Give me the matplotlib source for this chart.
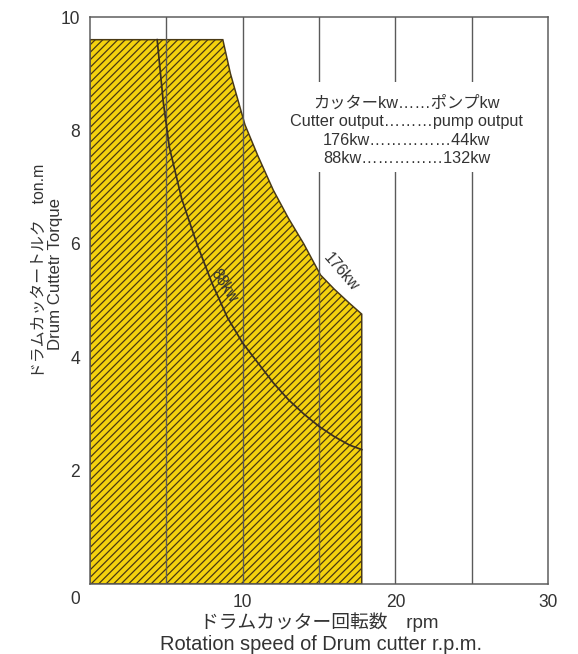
import matplotlib
matplotlib.use("Agg")
import matplotlib.pyplot as plt
from matplotlib.patches import Polygon, Rectangle

# ---- data ----
x_ticks = [10, 20, 30]
y_ticks = [2, 4, 6, 8, 10]
grid_x = [5, 10, 15, 20, 25]

max_torque = 9.6
max_rpm = 17.8

# 176 kW constant-power limit (rpm, ton.m)
rpm_176 = [8.7, 9.2, 10.15, 11, 12, 13, 14, 15.1, 16, 17, 17.8]
tq_176 = [9.6, 9.0, 8.1, 7.55, 6.95, 6.45, 6.0, 5.45, 5.2, 4.95, 4.76]

# 88 kW constant-power curve (rpm, ton.m)
rpm_88 = [4.4, 4.8, 5.2, 6, 7, 8, 9, 10, 11, 12, 13, 14, 15, 16, 17, 17.8]
tq_88 = [9.6, 8.5, 7.7, 6.8, 6.0, 5.3, 4.7, 4.25, 3.9, 3.55, 3.25, 3.0, 2.78, 2.6, 2.45, 2.37]

box_lines = ["カッターkw……ポンプkw",
             "Cutter output………pump output",
             "176kw……………44kw",
             "88kw……………132kw"]

DPI = 90
plt.rcParams['font.family'] = ['Liberation Sans', 'Noto Sans CJK JP']
plt.rcParams['hatch.linewidth'] = 1.0
plt.rcParams['hatch.color'] = '#4a3a14'

fig = plt.figure(figsize=(578 / DPI, 654 / DPI), dpi=DPI)
ax = fig.add_axes([90 / 578, 1 - 584 / 654, 458 / 578, 567 / 654])
ax.set_xlim(0, 30)
ax.set_ylim(0, 10)

txt_col = '#333333'
grid_col = '#5a5a5a'

# filled operating region
poly_x = [0, 0] + rpm_176 + [max_rpm]
poly_y = [0, max_torque] + tq_176 + [0]
region = Polygon(list(zip(poly_x, poly_y)), closed=True, facecolor='#F4D20E',
                 edgecolor='#4a3a14', linewidth=1.2, hatch='////', zorder=1)
ax.add_patch(region)

# vertical grid lines
for gx in grid_x:
    ax.axvline(gx, color=grid_col, linewidth=1.1, zorder=2)

# white gap behind the note text
ax.add_patch(Rectangle((13.5, 7.26), 14.5, 1.6, facecolor='white',
                       edgecolor='none', zorder=3))

# 88 kW curve
ax.plot(rpm_88, tq_88, color='#3b3020', linewidth=1.4, zorder=4)

# curve labels
ax.text(8.75, 5.26, '88kw', rotation=-57, ha='center', va='center',
        fontsize=12.5, color=txt_col, zorder=5)
ax.text(16.45, 5.5, '176kw', rotation=-49, ha='center', va='center',
        fontsize=12.5, color=txt_col, zorder=5)

# note box text
ax.text(20.76, 7.99, "\n".join(box_lines), ha='center', va='center',
        fontsize=13, color=txt_col, linespacing=1.27, zorder=5)

# spines & ticks
for s in ax.spines.values():
    s.set_color(grid_col)
    s.set_linewidth(1.2)
    s.set_zorder(6)
ax.set_xticks(x_ticks)
ax.set_yticks(y_ticks)
ax.tick_params(length=0, labelsize=14, labelcolor=txt_col, pad=8)
ax.annotate('0', xy=(0, 0), xytext=(-15, -16), textcoords='offset pixels',
            ha='center', va='center', fontsize=14, color=txt_col)

# axis labels
fig.text(319 / 578, 1 - 622 / 654, 'ドラムカッター回転数　rpm', ha='center',
         va='center', fontsize=15, color=txt_col)
fig.text(321 / 578, 1 - 644 / 654, 'Rotation speed of Drum cutter r.p.m.',
         ha='center', va='center', fontsize=16, color=txt_col)
fig.text(39 / 578, 1 - 271 / 654, 'ドラムカッタートルク　ton.m', rotation=90,
         ha='center', va='center', fontsize=12.7, color=txt_col)
fig.text(56 / 578, 1 - 274 / 654, 'Drum Cuttetr Torque', rotation=90,
         ha='center', va='center', fontsize=13.4, color=txt_col)

fig.savefig('out.png', dpi=DPI)
